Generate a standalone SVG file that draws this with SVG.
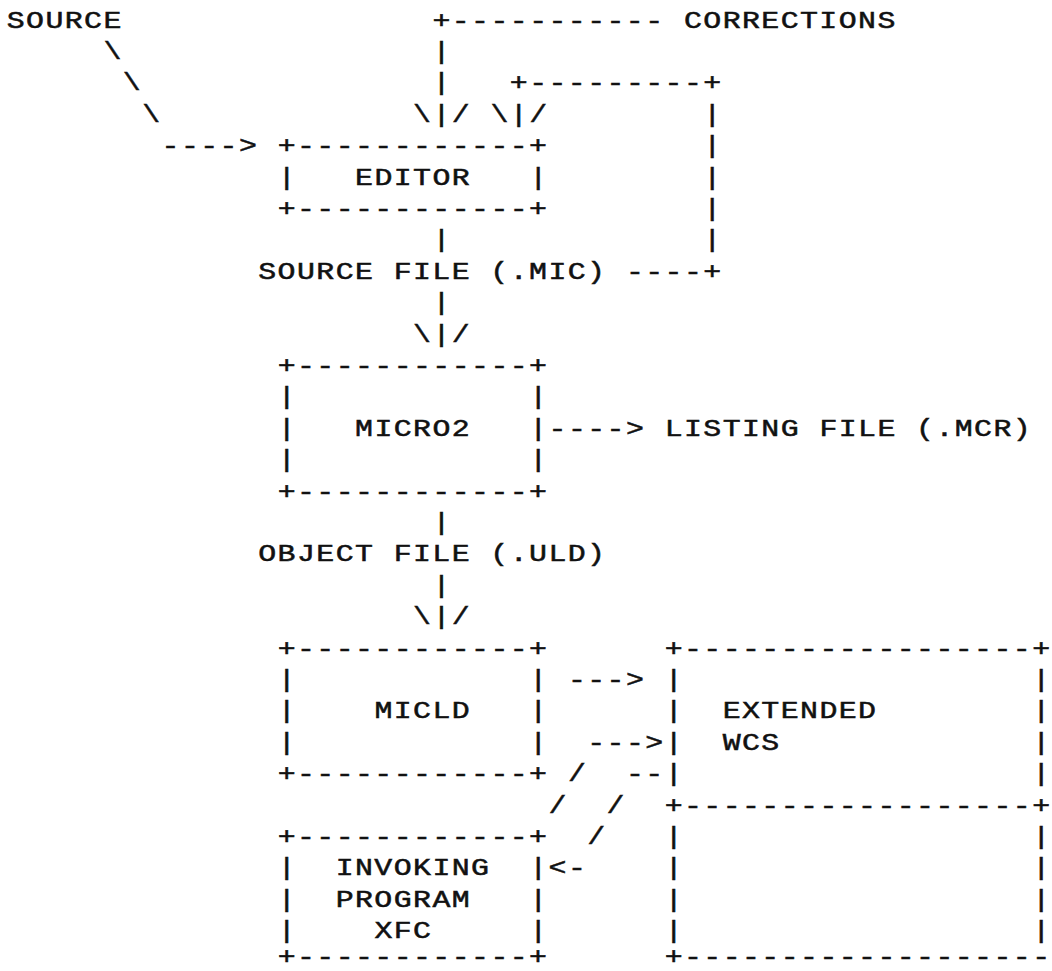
<svg xmlns="http://www.w3.org/2000/svg" width="1052" height="971" viewBox="0 0 1052 971">
<style>
text{font-family:"Liberation Mono","DejaVu Sans Mono",monospace;font-size:23px;letter-spacing:1.085px;fill:#111;stroke:#111;stroke-width:0.5px;}
</style>
<rect width="1052" height="971" fill="#fff"/>
<g transform="scale(1.3,1)">
<g id="connectors">
<text x="332.65" y="27.6">+-----------</text>
<text x="79.60" y="59.0">\</text><text x="332.65" y="59.0">|</text>
<text x="94.49" y="90.4">\</text><text x="332.65" y="90.4">|</text><text x="392.19" y="90.4">+---------+</text>
<text x="109.37" y="121.8">\</text><text x="317.76" y="121.8">\|/</text><text x="377.30" y="121.8">\|/</text><text x="541.04" y="121.8">|</text>
<text x="124.26" y="153.2">----&gt;</text><text x="541.04" y="153.2">|</text>
<text x="541.04" y="184.6">|</text>
<text x="541.04" y="216.0">|</text>
<text x="332.65" y="247.4">|</text><text x="541.04" y="247.4">|</text>
<text x="481.50" y="278.8">----+</text>
<text x="332.65" y="310.2">|</text>
<text x="317.76" y="341.6">\|/</text>
<text x="421.96" y="435.8">----&gt;</text>
<text x="332.65" y="530.0">|</text>
<text x="332.65" y="592.8">|</text>
<text x="317.76" y="624.2">\|/</text>
<text x="436.84" y="687.0">---&gt;</text>
<text x="451.73" y="749.8">---&gt;</text>
<text x="436.84" y="781.2">/</text><text x="481.50" y="781.2">--</text>
<text x="421.96" y="812.6">/</text><text x="466.61" y="812.6">/</text>
<text x="451.73" y="844.0">/</text>
<text x="421.96" y="875.4">&lt;-</text>
</g>
<g id="node-source"><text x="5.18" y="27.6">SOURCE</text></g>
<g id="node-corrections"><text x="526.15" y="27.6">CORRECTIONS</text></g>
<g id="node-editor">
<text x="213.57" y="153.2">+------------+</text>
<text x="213.57" y="184.6">|</text><text x="273.11" y="184.6">EDITOR</text><text x="407.07" y="184.6">|</text>
<text x="213.57" y="216.0">+------------+</text>
</g>
<g id="node-source-file"><text x="198.68" y="278.8">SOURCE FILE (.MIC)</text></g>
<g id="node-micro2">
<text x="213.57" y="373.0">+------------+</text>
<text x="213.57" y="404.4">|</text><text x="407.07" y="404.4">|</text>
<text x="213.57" y="435.8">|</text><text x="273.11" y="435.8">MICRO2</text><text x="407.07" y="435.8">|</text>
<text x="213.57" y="467.2">|</text><text x="407.07" y="467.2">|</text>
<text x="213.57" y="498.6">+------------+</text>
</g>
<g id="node-listing"><text x="511.27" y="435.8">LISTING FILE (.MCR)</text></g>
<g id="node-object-file"><text x="198.68" y="561.4">OBJECT FILE (.ULD)</text></g>
<g id="node-micld">
<text x="213.57" y="655.6">+------------+</text>
<text x="213.57" y="687.0">|</text><text x="407.07" y="687.0">|</text>
<text x="213.57" y="718.4">|</text><text x="287.99" y="718.4">MICLD</text><text x="407.07" y="718.4">|</text>
<text x="213.57" y="749.8">|</text><text x="407.07" y="749.8">|</text>
<text x="213.57" y="781.2">+------------+</text>
</g>
<g id="node-wcs">
<text x="511.27" y="655.6">+------------------+</text>
<text x="511.27" y="687.0">|</text><text x="794.08" y="687.0">|</text>
<text x="511.27" y="718.4">|</text><text x="555.92" y="718.4">EXTENDED</text><text x="794.08" y="718.4">|</text>
<text x="511.27" y="749.8">|</text><text x="555.92" y="749.8">WCS</text><text x="794.08" y="749.8">|</text>
<text x="511.27" y="781.2">|</text><text x="794.08" y="781.2">|</text>
<text x="511.27" y="812.6">+------------------+</text>
<text x="511.27" y="844.0">|</text><text x="794.08" y="844.0">|</text>
<text x="511.27" y="875.4">|</text><text x="794.08" y="875.4">|</text>
<text x="511.27" y="906.8">|</text><text x="794.08" y="906.8">|</text>
<text x="511.27" y="938.2">|</text><text x="794.08" y="938.2">|</text>
<text x="511.27" y="964">+-------------------</text>
</g>
<g id="node-xfc">
<text x="213.57" y="844.0">+------------+</text>
<text x="213.57" y="875.4">|</text><text x="258.22" y="875.4">INVOKING</text><text x="407.07" y="875.4">|</text>
<text x="213.57" y="906.8">|</text><text x="258.22" y="906.8">PROGRAM</text><text x="407.07" y="906.8">|</text>
<text x="213.57" y="938.2">|</text><text x="287.99" y="938.2">XFC</text><text x="407.07" y="938.2">|</text>
<text x="213.57" y="964">+------------+</text>
</g>
</g>
</svg>
